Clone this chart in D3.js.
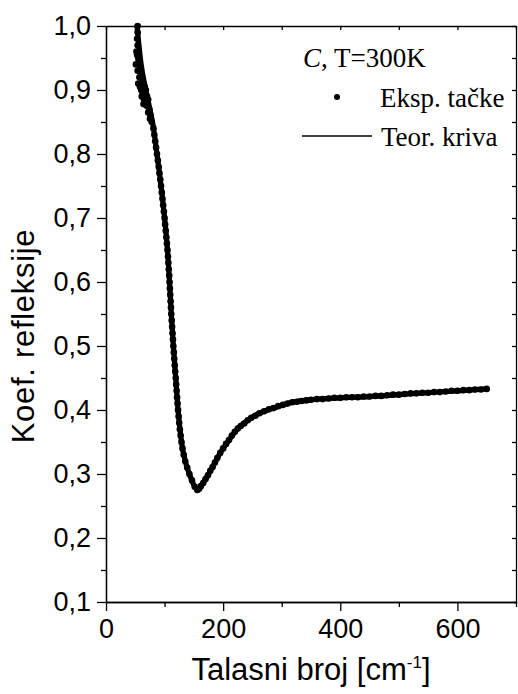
<!DOCTYPE html>
<html>
<head>
<meta charset="utf-8">
<script src="https://cdn.jsdelivr.net/npm/d3@7"></script>
<style>
  body { margin: 0; background: #fff; }
  svg { display: block; }
</style>
</head>
<body>
<svg id="chart" width="518" height="694"></svg>
<script>
// Axis ticks
const xTicks = [0, 200, 400, 600];
const xMinorTicks = [100, 300, 500, 700];
const yTicks = [0.1, 0.2, 0.3, 0.4, 0.5, 0.6, 0.7, 0.8, 0.9, 1.0];
const yTickLabels = ["0,1", "0,2", "0,3", "0,4", "0,5", "0,6", "0,7", "0,8", "0,9", "1,0"];
const yMinorTicks = [0.15, 0.25, 0.35, 0.45, 0.55, 0.65, 0.75, 0.85, 0.95];

// Measured reflectance (wave number in cm^-1, reflection coefficient)
const expWave = [
  54, 54, 53, 54, 52, 53, 55, 51, 56, 58, 54, 60, 57, 55, 62, 58, 64, 60, 66, 63,
  68, 61, 65, 70, 67, 72, 64, 70, 74, 72, 76, 75, 78,
  81, 82.5, 84, 85.5, 87, 88.5, 90, 91.3, 92.7, 94, 95.2, 96.4, 97.6, 98.8, 100,
  101, 102, 103, 104, 105, 105.8, 106.5, 107.2, 107.9, 108.5, 109.1, 109.7, 110.3,
  110.9, 111.5, 112.2, 112.9, 113.6, 114.3, 115, 115.8, 116.6, 117.4, 118.2, 119,
  119.8, 120.6, 121.4, 122.2, 123, 124, 125.0, 126.1, 127.4, 128.9, 130.6, 132.7, 135.3,
  138.6, 142.4, 146.8, 151.5, 156, 159,
  162, 166, 170, 174, 178, 182, 186, 190, 195, 200, 205, 210, 215, 220, 225, 230,
  236, 242, 248, 255, 262, 270, 278, 286, 294, 302, 310, 318, 326, 334, 342, 350,
  360, 370, 380, 390, 400, 410, 420, 430, 440, 450, 460, 470, 480, 490, 500, 510,
  520, 530, 540, 550, 560, 570, 580, 590, 600, 610, 620, 630, 640, 650
];
const expRefl = [
  1.000, 0.990, 0.980, 0.970, 0.960, 0.955, 0.950, 0.940, 0.945, 0.935, 0.930, 0.925,
  0.920, 0.910, 0.915, 0.905, 0.910, 0.900, 0.905, 0.895, 0.900, 0.890, 0.885, 0.890,
  0.880, 0.885, 0.878, 0.875, 0.870, 0.865, 0.860, 0.855, 0.850,
  0.84, 0.83, 0.82, 0.81, 0.80, 0.79, 0.78, 0.77, 0.76, 0.75, 0.74, 0.73, 0.72, 0.71,
  0.70, 0.69, 0.68, 0.67, 0.66, 0.65, 0.64, 0.63, 0.62, 0.61, 0.60, 0.59, 0.58, 0.57,
  0.56, 0.55, 0.54, 0.53, 0.52, 0.51, 0.50, 0.49, 0.48, 0.47, 0.46, 0.45, 0.44, 0.43,
  0.42, 0.41, 0.40, 0.39, 0.38, 0.37, 0.36, 0.35, 0.34, 0.33, 0.32, 0.31, 0.30, 0.29,
  0.28, 0.275, 0.277,
  0.281, 0.286, 0.292, 0.298, 0.305, 0.311, 0.318, 0.325, 0.333, 0.340, 0.347, 0.353,
  0.360, 0.366, 0.371, 0.375, 0.379, 0.384, 0.388, 0.391, 0.395, 0.398, 0.401, 0.403,
  0.406, 0.408, 0.410, 0.412, 0.413, 0.414, 0.415, 0.416, 0.417, 0.417, 0.418, 0.419,
  0.419, 0.420, 0.420, 0.420, 0.421, 0.421, 0.422, 0.422, 0.423, 0.424, 0.424, 0.425,
  0.426, 0.426, 0.427, 0.427, 0.428, 0.428, 0.429, 0.430, 0.430, 0.431, 0.431, 0.432,
  0.432, 0.433
];

// Theoretical fit
const theoWave = [53, 60, 68, 75, 80, 87, 94, 100, 105, 108.5, 111.5, 115, 119, 123, 128.9,
  135.3, 142.4, 150, 156, 162, 170, 182, 195, 210, 225, 242, 262, 286, 318, 350, 400, 450,
  500, 550, 600, 650];
const theoRefl = [1.0, 0.94, 0.9, 0.87, 0.847, 0.80, 0.75, 0.70, 0.65, 0.60, 0.55, 0.50,
  0.45, 0.40, 0.35, 0.32, 0.30, 0.283, 0.275, 0.281, 0.292, 0.311, 0.333, 0.353, 0.371,
  0.384, 0.395, 0.403, 0.412, 0.416, 0.419, 0.421, 0.424, 0.427, 0.430, 0.433];

const svg = d3.select("#chart");
const plotLeft = 106, plotRight = 516, plotTop = 26, plotBottom = 602;

const x = d3.scaleLinear().domain([0, 700]).range([plotLeft, plotRight]);
const y = d3.scaleLinear().domain([0.1, 1.0]).range([plotBottom, plotTop]);

const sans = "'Liberation Sans', Arial, Helvetica, sans-serif";
const serif = "'Liberation Serif', 'Times New Roman', Times, serif";

svg.append("rect").attr("width", 518).attr("height", 694).attr("fill", "#fff");

function styleAxis(g) {
  g.select(".domain").attr("stroke", "#000").attr("stroke-width", 1.3);
  g.selectAll(".tick line").attr("stroke", "#000").attr("stroke-width", 1.3);
  g.selectAll(".tick text").attr("fill", "#000")
    .style("font-family", sans).style("font-size", "27px");
}

// Bottom axis
svg.append("g").attr("transform", `translate(0,${plotBottom})`)
  .call(d3.axisBottom(x).tickValues(xMinorTicks).tickSize(5).tickSizeOuter(0).tickFormat(""))
  .call(styleAxis);
svg.append("g").attr("transform", `translate(0,${plotBottom})`)
  .call(d3.axisBottom(x).tickValues(xTicks).tickSize(9).tickPadding(8).tickSizeOuter(0))
  .call(styleAxis);

// Top axis (inner ticks)
svg.append("g").attr("transform", `translate(0,${plotTop})`)
  .call(d3.axisTop(x).tickValues(xTicks.concat(xMinorTicks)).tickSize(-4).tickSizeOuter(0).tickFormat(""))
  .call(styleAxis);

// Left axis
svg.append("g").attr("transform", `translate(${plotLeft},0)`)
  .call(d3.axisLeft(y).tickValues(yMinorTicks).tickSize(5).tickSizeOuter(0).tickFormat(""))
  .call(styleAxis);
svg.append("g").attr("transform", `translate(${plotLeft},0)`)
  .call(d3.axisLeft(y).tickValues(yTicks).tickSize(9).tickPadding(6).tickSizeOuter(0)
    .tickFormat((d, i) => yTickLabels[i]))
  .call(styleAxis);

// Right axis (inner ticks)
svg.append("g").attr("transform", `translate(${plotRight},0)`)
  .call(d3.axisRight(y).tickValues(yTicks.concat(yMinorTicks)).tickSize(-4).tickSizeOuter(0).tickFormat(""))
  .call(styleAxis);

// Theoretical curve, drawn under the dense measured points
const line = d3.line()
  .x((d, i) => x(theoWave[i]))
  .y((d, i) => y(theoRefl[i]))
  .curve(d3.curveMonotoneX);
svg.append("path")
  .attr("d", line(theoWave))
  .attr("fill", "none")
  .attr("stroke", "#000")
  .attr("stroke-width", 5.2)
  .attr("stroke-linejoin", "round")
  .attr("stroke-linecap", "round");

// Measured points
svg.append("g").selectAll("circle")
  .data(expWave)
  .join("circle")
  .attr("cx", (d, i) => x(expWave[i]))
  .attr("cy", (d, i) => y(expRefl[i]))
  .attr("r", 3.3)
  .attr("fill", "#000");

// Axis titles
const xt = svg.append("text")
  .attr("x", (plotLeft + plotRight) / 2).attr("y", 680)
  .attr("text-anchor", "middle")
  .style("font-family", sans).style("font-size", "31px").attr("fill", "#000");
xt.append("tspan").text("Talasni broj [cm");
xt.append("tspan").attr("dy", -12).style("font-size", "17px").text("-1");
xt.append("tspan").attr("dy", 12).text("]");

svg.append("text")
  .attr("transform", `translate(33.5,336) rotate(-90)`)
  .attr("text-anchor", "middle")
  .style("font-family", sans).style("font-size", "31px")
  .style("letter-spacing", "0.7px").attr("fill", "#000")
  .text("Koef. refleksije");

// Legend
const lg = svg.append("g").style("font-family", serif).style("font-size", "27px").attr("fill", "#000");
const t1 = lg.append("text").attr("x", 303).attr("y", 66.5);
t1.append("tspan").style("font-style", "italic").text("C");
t1.append("tspan").text(", T=300K");
lg.append("circle").attr("cx", 337).attr("cy", 97).attr("r", 3).attr("fill", "#000");
lg.append("text").attr("x", 380).attr("y", 106.5).text("Eksp. tačke");
lg.append("line").attr("x1", 302).attr("x2", 372).attr("y1", 136).attr("y2", 136)
  .attr("stroke", "#000").attr("stroke-width", 1.3);
lg.append("text").attr("x", 381).attr("y", 145.5).text("Teor. kriva");
</script>
</body>
</html>
